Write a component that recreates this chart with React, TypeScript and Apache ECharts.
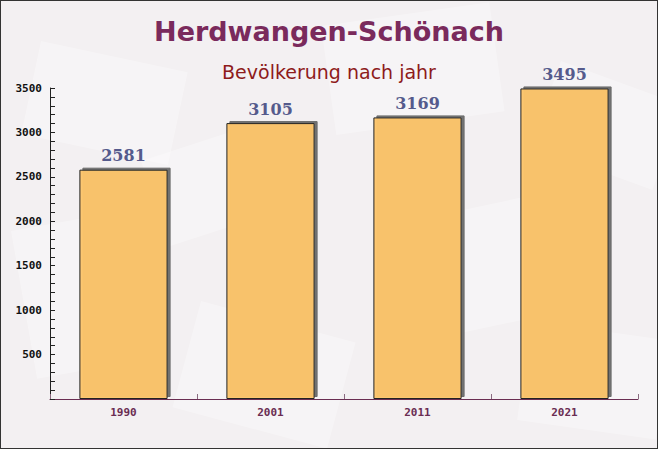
import React, { useEffect, useRef } from "react";
import * as echarts from "echarts";

const years = ["1990", "2001", "2011", "2021"];
const population = [2581, 3105, 3169, 3495];
const yLabels = [500, 1000, 1500, 2000, 2500, 3000, 3500];

export default function App() {
  const ref = useRef<HTMLDivElement>(null);
  useEffect(() => {
    if (!ref.current) return;
    const chart = echarts.init(ref.current, null, { renderer: "svg" });
    const env = [
      { x: 40, y: 40, w: 150, h: 95, r: -12 },
      { x: 320, y: 25, w: 170, h: 110, r: 8 },
      { x: 560, y: 60, w: 130, h: 90, r: -20 },
      { x: 10, y: 230, w: 120, h: 150, r: 10 },
      { x: 200, y: 300, w: 160, h: 110, r: -15 },
      { x: 410, y: 220, w: 150, h: 120, r: 12 },
      { x: 530, y: 320, w: 140, h: 100, r: -8 },
      { x: 140, y: 160, w: 110, h: 90, r: 18 },
    ];
    chart.setOption({
      animation: false,
      backgroundColor: "#f3f0f2",
      graphic: env.map((e) => ({
        type: "rect",
        silent: true,
        z: -10,
        x: e.x,
        y: e.y,
        rotation: (e.r * Math.PI) / 180,
        shape: { x: 0, y: 0, width: e.w, height: e.h },
        style: { fill: "rgba(255,255,255,0.3)" },
      })),
      title: [
        {
          text: "Herdwangen-Schönach",
          left: "center",
          top: 12,
          textStyle: {
            fontFamily: "DejaVu Sans",
            fontWeight: "bold",
            fontSize: 27,
            color: "#7a2a5c",
          },
        },
        {
          text: "Bevölkerung nach jahr",
          left: "center",
          top: 56,
          textStyle: {
            fontFamily: "DejaVu Sans",
            fontWeight: "normal",
            fontSize: 19,
            color: "#8e1b1b",
          },
        },
      ],
      grid: { left: 49, right: 19, top: 87, bottom: 49 },
      xAxis: {
        type: "category",
        data: years,
        axisLine: { lineStyle: { color: "#6a2d52", width: 1 } },
        axisTick: { show: true, inside: true, length: 5, lineStyle: { color: "#8a6a80" } },
        axisLabel: {
          fontFamily: "DejaVu Sans Mono",
          fontWeight: "bold",
          fontSize: 11,
          color: "#6a2d52",
          margin: 8,
        },
      },
      yAxis: {
        type: "value",
        min: 0,
        max: 3500,
        interval: 100,
        axisLine: { show: true, lineStyle: { color: "#222", width: 1 } },
        axisTick: { show: true, inside: true, length: 5, lineStyle: { color: "#222" } },
        splitLine: { show: false },
        axisLabel: {
          fontFamily: "DejaVu Sans Mono",
          fontWeight: "bold",
          fontSize: 11,
          color: "#111",
          margin: 8,
          showMinLabel: true,
          showMaxLabel: true,
          interval: 0,
          formatter: (v: number) => (yLabels.includes(v) ? String(v) : ""),
        },
      },
      series: [
        {
          type: "bar",
          data: population,
          barWidth: "60%",
          itemStyle: {
            color: "rgba(253,197,106,0.95)",
            borderColor: "#222",
            borderWidth: 1,
            shadowColor: "#6a6a6a",
            shadowBlur: 0,
            shadowOffsetX: 3,
            shadowOffsetY: -2,
          },
          label: {
            show: true,
            position: "top",
            distance: 6,
            fontFamily: "DejaVu Serif",
            fontWeight: "bold",
            fontSize: 16,
            color: "#555a8c",
          },
        },
      ],
    });
    return () => chart.dispose();
  }, []);
  return (
    <div
      style={{
        position: "fixed",
        left: 0,
        top: 0,
        width: 658,
        height: 449,
        boxSizing: "border-box",
        border: "1px solid #333",
        overflow: "hidden",
      }}
    >
      <div ref={ref} style={{ width: 656, height: 447 }} />
    </div>
  );
}
